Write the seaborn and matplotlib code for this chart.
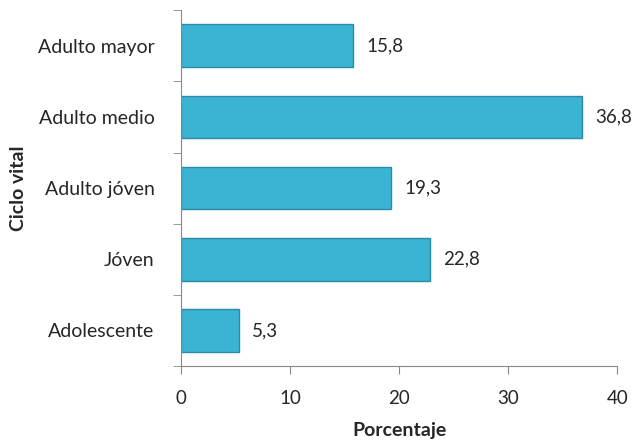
import matplotlib
matplotlib.use("Agg")
import matplotlib.pyplot as plt
import seaborn as sns
import numpy as np

# Ciclo vital vs porcentaje
categorias = ["Adulto mayor", "Adulto medio", "Adulto jóven", "Jóven", "Adolescente"]
porcentajes = [15.8, 36.8, 19.3, 22.8, 5.3]
x_ticks = [0, 10, 20, 30, 40]

sns.set_style("white")
plt.rcParams["font.family"] = ["Lato", "DejaVu Sans"]

fig = plt.figure(figsize=(6.35, 4.4), dpi=100)
ax = fig.add_axes([0.285, 0.168, 0.687, 0.809])

sns.barplot(x=porcentajes, y=categorias, orient="h", color="#3bb4d4",
            edgecolor="#2b8aa6", linewidth=1.0, width=0.6, saturation=1, ax=ax)

for p, v in zip(ax.patches, porcentajes):
    ax.text(p.get_width() + 1.2, p.get_y() + p.get_height() / 2,
            f"{v:.1f}".replace(".", ","), va="center", ha="left", fontsize=13.5)

ax.set_xlim(0, 40)
ax.set_ylim(len(categorias) - 0.5, -0.5)
ax.set_xticks(x_ticks)
ax.set_xticklabels([str(t) for t in x_ticks], fontsize=13.5)
ax.tick_params(axis="y", length=0, labelsize=14, pad=19)
ax.set_yticks(np.arange(len(categorias) + 1) - 0.5, minor=True)
ax.tick_params(axis="y", which="minor", length=6, color="#888888", direction="out", left=True)
ax.tick_params(axis="x", length=6, color="#888888", direction="out", bottom=True, pad=11)

for s in ["top", "right"]:
    ax.spines[s].set_visible(False)
for s in ["left", "bottom"]:
    ax.spines[s].set_color("#888888")

ax.set_xlabel("Porcentaje", fontsize=14, fontweight="bold", labelpad=11)
ax.set_ylabel("Ciclo vital", fontsize=14, fontweight="bold", labelpad=8)

fig.savefig("out.png", dpi=100)
